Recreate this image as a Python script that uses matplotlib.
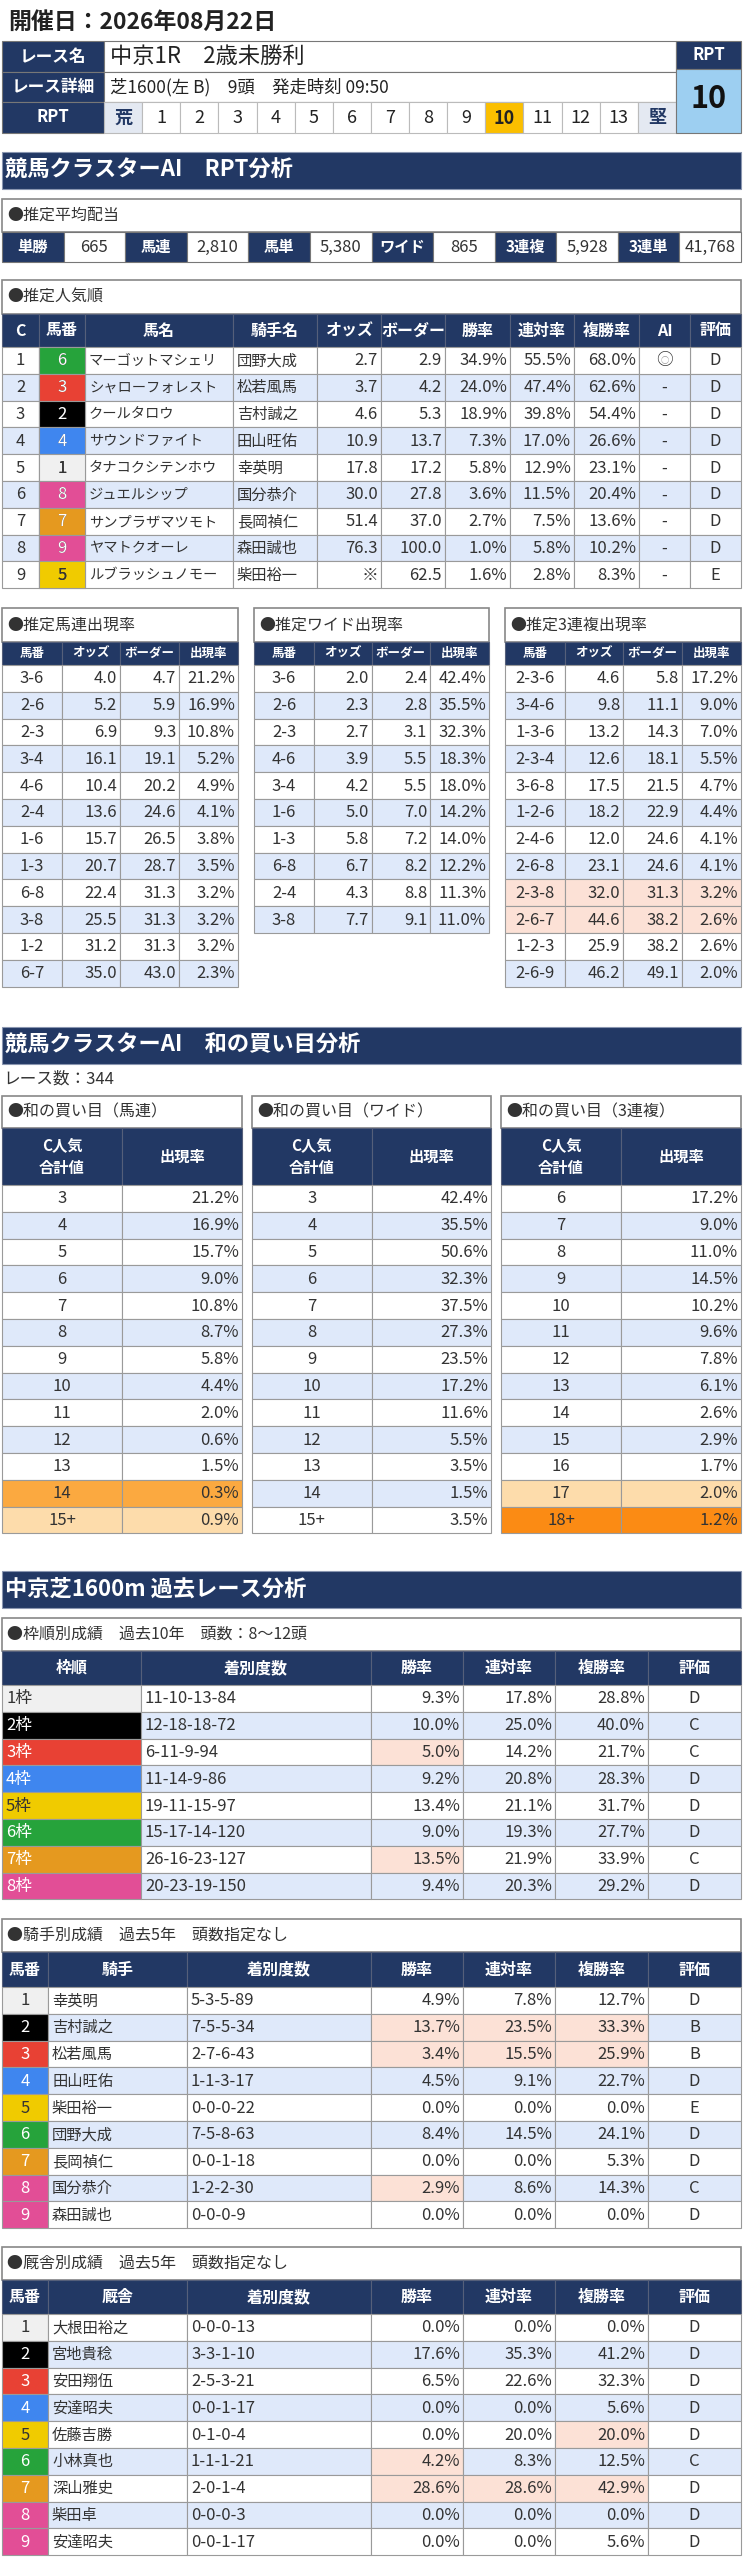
import numpy as np
import matplotlib
matplotlib.use("Agg")
import matplotlib.pyplot as plt
from matplotlib.patches import Rectangle

plt.rcParams['font.family'] = ['Noto Sans CJK JP', 'DejaVu Sans']

# ---- data ----
race_date = "開催日：2026年08月22日"
race_name = "中京1R　2歳未勝利"
race_detail = "芝1600(左 B)　9頭　発走時刻 09:50"
rpt_scale = ['荒', '1', '2', '3', '4', '5', '6', '7', '8', '9', '10', '11', '12', '13', '堅']
rpt_value = 10

payout_labels = ['単勝', '馬連', '馬単', 'ワイド', '3連複', '3連単']
payout_values = ['665', '2,810', '5,380', '865', '5,928', '41,768']

pop_c = [1, 2, 3, 4, 5, 6, 7, 8, 9]
pop_umaban = [6, 3, 2, 4, 1, 8, 7, 9, 5]
pop_name = ['マーゴットマシェリ', 'シャローフォレスト', 'クールタロウ', 'サウンドファイト',
            'タナコクシテンホウ', 'ジュエルシップ', 'サンプラザマツモト', 'ヤマトクオーレ', 'ルブラッシュノモー']
pop_jockey = ['団野大成', '松若風馬', '吉村誠之', '田山旺佑', '幸英明', '国分恭介', '長岡禎仁', '森田誠也', '柴田裕一']
pop_odds = ['2.7', '3.7', '4.6', '10.9', '17.8', '30.0', '51.4', '76.3', '※']
pop_border = [2.9, 4.2, 5.3, 13.7, 17.2, 27.8, 37.0, 100.0, 62.5]
pop_win = [34.9, 24.0, 18.9, 7.3, 5.8, 3.6, 2.7, 1.0, 1.6]
pop_ren = [55.5, 47.4, 39.8, 17.0, 12.9, 11.5, 7.5, 5.8, 2.8]
pop_fuku = [68.0, 62.6, 54.4, 26.6, 23.1, 20.4, 13.6, 10.2, 8.3]
pop_ai = ['○', '-', '-', '-', '-', '-', '-', '-', '-']
pop_grade = ['D', 'D', 'D', 'D', 'D', 'D', 'D', 'D', 'E']

umaren_kumi = ['3-6', '2-6', '2-3', '3-4', '4-6', '2-4', '1-6', '1-3', '6-8', '3-8', '1-2', '6-7']
umaren_odds = [4.0, 5.2, 6.9, 16.1, 10.4, 13.6, 15.7, 20.7, 22.4, 25.5, 31.2, 35.0]
umaren_border = [4.7, 5.9, 9.3, 19.1, 20.2, 24.6, 26.5, 28.7, 31.3, 31.3, 31.3, 43.0]
umaren_rate = [21.2, 16.9, 10.8, 5.2, 4.9, 4.1, 3.8, 3.5, 3.2, 3.2, 3.2, 2.3]

wide_kumi = ['3-6', '2-6', '2-3', '4-6', '3-4', '1-6', '1-3', '6-8', '2-4', '3-8']
wide_odds = [2.0, 2.3, 2.7, 3.9, 4.2, 5.0, 5.8, 6.7, 4.3, 7.7]
wide_border = [2.4, 2.8, 3.1, 5.5, 5.5, 7.0, 7.2, 8.2, 8.8, 9.1]
wide_rate = [42.4, 35.5, 32.3, 18.3, 18.0, 14.2, 14.0, 12.2, 11.3, 11.0]

trio_kumi = ['2-3-6', '3-4-6', '1-3-6', '2-3-4', '3-6-8', '1-2-6', '2-4-6', '2-6-8', '2-3-8', '2-6-7', '1-2-3', '2-6-9']
trio_odds = [4.6, 9.8, 13.2, 12.6, 17.5, 18.2, 12.0, 23.1, 32.0, 44.6, 25.9, 46.2]
trio_border = [5.8, 11.1, 14.3, 18.1, 21.5, 22.9, 24.6, 24.6, 31.3, 38.2, 38.2, 49.1]
trio_rate = [17.2, 9.0, 7.0, 5.5, 4.7, 4.4, 4.1, 4.1, 3.2, 2.6, 2.6, 2.0]
trio_hl_rows = [8, 9]

race_count = 344
sum_umaren_keys = ['3', '4', '5', '6', '7', '8', '9', '10', '11', '12', '13', '14', '15+']
sum_umaren_rate = [21.2, 16.9, 15.7, 9.0, 10.8, 8.7, 5.8, 4.4, 2.0, 0.6, 1.5, 0.3, 0.9]
sum_wide_keys = ['3', '4', '5', '6', '7', '8', '9', '10', '11', '12', '13', '14', '15+']
sum_wide_rate = [42.4, 35.5, 50.6, 32.3, 37.5, 27.3, 23.5, 17.2, 11.6, 5.5, 3.5, 1.5, 3.5]
sum_trio_keys = ['6', '7', '8', '9', '10', '11', '12', '13', '14', '15', '16', '17', '18+']
sum_trio_rate = [17.2, 9.0, 11.0, 14.5, 10.2, 9.6, 7.8, 6.1, 2.6, 2.9, 1.7, 2.0, 1.2]

waku_labels = ['1枠', '2枠', '3枠', '4枠', '5枠', '6枠', '7枠', '8枠']
waku_record = ['11-10-13-84', '12-18-18-72', '6-11-9-94', '11-14-9-86',
               '19-11-15-97', '15-17-14-120', '26-16-23-127', '20-23-19-150']
waku_win = [9.3, 10.0, 5.0, 9.2, 13.4, 9.0, 13.5, 9.4]
waku_ren = [17.8, 25.0, 14.2, 20.8, 21.1, 19.3, 21.9, 20.3]
waku_fuku = [28.8, 40.0, 21.7, 28.3, 31.7, 27.7, 33.9, 29.2]
waku_grade = ['D', 'C', 'C', 'D', 'D', 'D', 'C', 'D']
waku_hl = [(2, 2), (6, 2)]

horse_no = [1, 2, 3, 4, 5, 6, 7, 8, 9]
jockey_names = ['幸英明', '吉村誠之', '松若風馬', '田山旺佑', '柴田裕一', '団野大成', '長岡禎仁', '国分恭介', '森田誠也']
jockey_record = ['5-3-5-89', '7-5-5-34', '2-7-6-43', '1-1-3-17', '0-0-0-22', '7-5-8-63', '0-0-1-18', '1-2-2-30', '0-0-0-9']
jockey_win = [4.9, 13.7, 3.4, 4.5, 0.0, 8.4, 0.0, 2.9, 0.0]
jockey_ren = [7.8, 23.5, 15.5, 9.1, 0.0, 14.5, 0.0, 8.6, 0.0]
jockey_fuku = [12.7, 33.3, 25.9, 22.7, 0.0, 24.1, 5.3, 14.3, 0.0]
jockey_grade = ['D', 'B', 'B', 'D', 'E', 'D', 'D', 'C', 'D']
jockey_hl = [(1, 3), (1, 4), (1, 5), (2, 3), (2, 4), (2, 5), (7, 3)]

trainer_names = ['大根田裕之', '宮地貴稔', '安田翔伍', '安達昭夫', '佐藤吉勝', '小林真也', '深山雅史', '柴田卓', '安達昭夫']
trainer_record = ['0-0-0-13', '3-3-1-10', '2-5-3-21', '0-0-1-17', '0-1-0-4', '1-1-1-21', '2-0-1-4', '0-0-0-3', '0-0-1-17']
trainer_win = [0.0, 17.6, 6.5, 0.0, 0.0, 4.2, 28.6, 0.0, 0.0]
trainer_ren = [0.0, 35.3, 22.6, 0.0, 20.0, 8.3, 28.6, 0.0, 0.0]
trainer_fuku = [0.0, 41.2, 32.3, 5.6, 20.0, 12.5, 42.9, 0.0, 5.6]
trainer_grade = ['D', 'D', 'D', 'D', 'D', 'C', 'D', 'D', 'D']
trainer_hl = [(4, 5), (5, 3), (6, 3), (6, 4), (6, 5)]

# ---- colours ----
NAVY = '#223864'
ALT = '#dfe9fa'
PINK = '#fce1d6'
GRID = '#9a9a9a'
TXT = '#333333'
waku_bg = {1: '#f0f0f0', 2: '#000000', 3: '#e84134', 4: '#3f86ef',
           5: '#f0cb00', 6: '#26a33b', 7: '#e5991f', 8: '#e24e96'}
waku_fg = {1: TXT, 2: 'white', 3: 'white', 4: 'white', 5: TXT, 6: 'white', 7: 'white', 8: 'white'}


def waku_of(n):
    # 9 runners -> horse 9 shares frame 8
    return min(n, 8)


fig = plt.figure(figsize=(7.43, 25.6), dpi=100)
ax = fig.add_axes([0, 0, 1, 1])
ax.set_xlim(0, 743)
ax.set_ylim(2560, 0)
ax.axis('off')

RH = 26.8


def rect(x0, y0, x1, y1, fc, ec=GRID, lw=0.8):
    ax.add_patch(Rectangle((x0, y0), x1 - x0, y1 - y0, facecolor=fc, edgecolor=ec, linewidth=lw))


def cell_text(x0, x1, yc, s, align, color=TXT, size=11.5, bold=False, pad=4):
    if align == 'left':
        x, ha = x0 + pad, 'left'
    elif align == 'right':
        x, ha = x1 - pad + 1, 'right'
    else:
        x, ha = (x0 + x1) / 2, 'center'
    ax.text(x, yc, s, ha=ha, va='center', color=color, fontsize=size,
            fontweight='bold' if bold else 'normal')


def section_bar(y0, y1, title):
    rect(2, y0, 741, y1, NAVY, ec='#8a96b0', lw=0.8)
    ax.text(5, (y0 + y1) / 2, title, ha='left', va='center', color='white',
            fontsize=16, fontweight='bold')


def box_title(x0, x1, y0, y1, title, size=11.5):
    rect(x0, y0, x1, y1, 'white', ec='#888888', lw=1.2)
    ax.text(x0 + 5, (y0 + y1) / 2, '●' + title, ha='left', va='center',
            color=TXT, fontsize=size)


def table(edges, y0, header_h, headers, cols, aligns, hsize=10.5, size=12, sizes=None,
          hl=(), hl_rows=(), first_col=None, row_color=None):
    n = len(cols[0])
    for j, h in enumerate(headers):
        rect(edges[j], y0, edges[j + 1], y0 + header_h, NAVY, ec='#555f7a')
        ax.text((edges[j] + edges[j + 1]) / 2, y0 + header_h / 2, h, ha='center', va='center',
                color='white', fontsize=hsize, fontweight='bold', linespacing=1.5)
    for i in range(n):
        ry = y0 + header_h + i * RH
        base = 'white' if i % 2 == 0 else ALT
        for j, col in enumerate(cols):
            fc, fg = base, TXT
            if row_color is not None and row_color[i] is not None:
                fc = row_color[i]
            if (i, j) in hl or i in hl_rows:
                fc = PINK
            if j == 0 and first_col is not None:
                fc, fg = first_col(i)
            rect(edges[j], ry, edges[j + 1], ry + RH, fc)
            sz = sizes[j] if sizes is not None else size
            cell_text(edges[j], edges[j + 1], ry + RH / 2 + 0.5, col[i], aligns[j], color=fg, size=sz)


def pct(vals):
    return ['%.1f%%' % v for v in vals]


def f1(vals):
    return ['%.1f' % v for v in vals]


# ---- header block ----
ax.text(8, 22, race_date, ha='left', va='center', fontsize=16.5, fontweight='bold', color='#222222')
rows_y = [41, 72, 102, 133]
for k, lab in enumerate(['レース名', 'レース詳細', 'RPT']):
    rect(2, rows_y[k], 104, rows_y[k + 1], NAVY, ec='#777777')
    ax.text(53, (rows_y[k] + rows_y[k + 1]) / 2, lab, ha='center', va='center',
            color='white', fontsize=12, fontweight='bold')
rect(104, 41, 676, 72, 'white', ec='#777777')
ax.text(110, 56.5, race_name, ha='left', va='center', fontsize=16, color='#222222')
rect(104, 72, 676, 102, 'white', ec='#777777')
ax.text(110, 87, race_detail, ha='left', va='center', fontsize=12.5, color='#222222')
rpt_edges = np.linspace(104, 676, len(rpt_scale) + 1)
for k, s in enumerate(rpt_scale):
    if s in ('荒', '堅'):
        fc, fg, bw = '#e4e9f2', NAVY, 'bold'
    elif s == str(rpt_value):
        fc, fg, bw = '#fbbf00', '#222222', 'bold'
    else:
        fc, fg, bw = 'white', '#222222', 'normal'
    rect(rpt_edges[k], 102, rpt_edges[k + 1], 133, fc, ec='#bbbbbb')
    ax.text((rpt_edges[k] + rpt_edges[k + 1]) / 2, 118, s, ha='center', va='center',
            color=fg, fontsize=13, fontweight=bw)
rect(676, 41, 741, 69, NAVY, ec='#777777')
ax.text(708.5, 55, 'RPT', ha='center', va='center', color='white', fontsize=12, fontweight='bold')
rect(676, 69, 741, 133, '#9dcff1', ec='#777777')
ax.text(708.5, 99, str(rpt_value), ha='center', va='center', color='#111111', fontsize=22, fontweight='bold')

# ---- RPT analysis ----
section_bar(152, 189, '競馬クラスターAI　RPT分析')

box_title(2, 741, 199, 232, '推定平均配当')
pe = np.linspace(2, 741, 2 * len(payout_labels) + 1)
for k, (lab, val) in enumerate(zip(payout_labels, payout_values)):
    rect(pe[2 * k], 232, pe[2 * k + 1], 262, NAVY, ec='#777777')
    ax.text((pe[2 * k] + pe[2 * k + 1]) / 2, 247, lab, ha='center', va='center',
            color='white', fontsize=11, fontweight='bold')
    rect(pe[2 * k + 1], 232, pe[2 * k + 2], 262, 'white', ec='#777777')
    ax.text((pe[2 * k + 1] + pe[2 * k + 2]) / 2, 247.5, val, ha='center', va='center',
            color=TXT, fontsize=12)

box_title(2, 741, 280, 314, '推定人気順')
pop_edges = [2, 39, 85, 233, 317, 381, 445, 510, 574, 639, 690, 741]
pop_cols = [[str(c) for c in pop_c], [str(u) for u in pop_umaban], pop_name, pop_jockey, pop_odds,
            f1(pop_border), pct(pop_win), pct(pop_ren), pct(pop_fuku), pop_ai, pop_grade]
table(pop_edges, 314, 33,
      ['C', '馬番', '馬名', '騎手名', 'オッズ', 'ボーダー', '勝率', '連対率', '複勝率', 'AI', '評価'],
      pop_cols, ['center', 'center', 'left', 'left', 'right', 'right', 'right', 'right', 'right', 'center', 'center'],
      hsize=11.5, sizes=[12, 12, 10.3, 11, 12, 12, 12, 12, 12, 12, 12])
# frame colours for the horse number column
for i, u in enumerate(pop_umaban):
    ry = 347 + i * RH
    w = waku_of(u)
    rect(39, ry, 85, ry + RH, waku_bg[w])
    cell_text(39, 85, ry + RH / 2 + 0.5, str(u), 'center', color=waku_fg[w], size=12)
# AI mark is small and grey
for i, m in enumerate(pop_ai):
    if m == '○':
        ry = 347 + i * RH
        bg = 'white' if i % 2 == 0 else ALT
        rect(639, ry, 690, ry + RH, bg)
        cell_text(639, 690, ry + RH / 2, m, 'center', color='#9a9a9a', size=6, bold=True)

# three small probability tables
small = [
    ((2, 238), '推定馬連出現率', umaren_kumi, umaren_odds, umaren_border, umaren_rate, ()),
    ((254, 489), '推定ワイド出現率', wide_kumi, wide_odds, wide_border, wide_rate, ()),
    ((505, 741), '推定3連複出現率', trio_kumi, trio_odds, trio_border, trio_rate, trio_hl_rows),
]
for (x0, x1), title, kumi, odds, border, rate, hlr in small:
    box_title(x0, x1, 608, 642, title)
    w = x1 - x0
    edges = [x0, x0 + 0.255 * w, x0 + 0.5 * w, x0 + 0.75 * w, x1]
    table(edges, 642, 23, ['馬番', 'オッズ', 'ボーダー', '出現率'],
          [kumi, f1(odds), f1(border), pct(rate)], ['center', 'right', 'right', 'right'],
          hsize=9, size=12, hl_rows=hlr)

# ---- sum analysis ----
section_bar(1027, 1064, '競馬クラスターAI　和の買い目分析')
ax.text(3, 1079, 'レース数：%d' % race_count, ha='left', va='center', fontsize=12, color=TXT)

sum_umaren_colors = [None] * 11 + ['#fba940', '#fddcab']
sum_wide_colors = [None] * 13
sum_trio_colors = [None] * 11 + ['#fddcab', '#fb8b14']
sums = [
    ((2, 242), '和の買い目（馬連）', sum_umaren_keys, sum_umaren_rate, sum_umaren_colors),
    ((252, 491), '和の買い目（ワイド）', sum_wide_keys, sum_wide_rate, sum_wide_colors),
    ((501, 741), '和の買い目（3連複）', sum_trio_keys, sum_trio_rate, sum_trio_colors),
]
for (x0, x1), title, keys, rate, colors in sums:
    box_title(x0, x1, 1096, 1128, title)
    mid = (x0 + x1) / 2
    table([x0, mid, x1], 1128, 57, ['C人気\n合計値', '出現率'], [keys, pct(rate)],
          ['center', 'right'], hsize=11, size=12, row_color=colors)

# ---- past race analysis ----
section_bar(1571, 1608, '中京芝1600m 過去レース分析')

box_title(2, 741, 1618, 1651, '枠順別成績　過去10年　頭数：8～12頭')
table([2, 141, 371, 463, 555, 648, 741], 1651, 34,
      ['枠順', '着別度数', '勝率', '連対率', '複勝率', '評価'],
      [waku_labels, waku_record, pct(waku_win), pct(waku_ren), pct(waku_fuku), waku_grade],
      ['left', 'left', 'right', 'right', 'right', 'center'], hsize=11.5, size=12, hl=waku_hl,
      first_col=lambda i: (waku_bg[i + 1], waku_fg[i + 1]))

box_title(2, 741, 1919, 1952, '騎手別成績　過去5年　頭数指定なし')
table([2, 48, 187, 371, 463, 555, 648, 741], 1952, 35,
      ['馬番', '騎手', '着別度数', '勝率', '連対率', '複勝率', '評価'],
      [[str(h) for h in horse_no], jockey_names, jockey_record, pct(jockey_win), pct(jockey_ren),
       pct(jockey_fuku), jockey_grade],
      ['center', 'left', 'left', 'right', 'right', 'right', 'center'], hsize=11.5,
      sizes=[12, 11, 12, 12, 12, 12, 12], hl=jockey_hl,
      first_col=lambda i: (waku_bg[waku_of(horse_no[i])], waku_fg[waku_of(horse_no[i])]))

box_title(2, 741, 2247, 2280, '厩舎別成績　過去5年　頭数指定なし')
table([2, 48, 187, 371, 463, 555, 648, 741], 2280, 34,
      ['馬番', '厩舎', '着別度数', '勝率', '連対率', '複勝率', '評価'],
      [[str(h) for h in horse_no], trainer_names, trainer_record, pct(trainer_win), pct(trainer_ren),
       pct(trainer_fuku), trainer_grade],
      ['center', 'left', 'left', 'right', 'right', 'right', 'center'], hsize=11.5,
      sizes=[12, 11, 12, 12, 12, 12, 12], hl=trainer_hl,
      first_col=lambda i: (waku_bg[waku_of(horse_no[i])], waku_fg[waku_of(horse_no[i])]))

fig.savefig('out.png', dpi=100, facecolor='white')
